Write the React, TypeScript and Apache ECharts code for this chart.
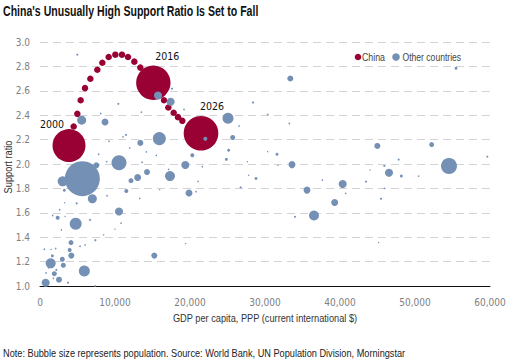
import React, { useEffect, useRef } from "react";
import * as echarts from "echarts";

const FONT = "'DejaVu Sans Condensed', 'Liberation Sans', sans-serif";
const NARROW = "'Liberation Sans', Arial, sans-serif";

const titleText = "China's Unusually High Support Ratio Is Set to Fall";
const noteText = "Note: Bubble size represents population. Source: World Bank, UN Population Division, Morningstar";
const xAxisName = "GDP per capita, PPP (current international $)";
const yAxisName = "Support ratio";
const legendNames = ["China", "Other countries"];

const xTicks = [0, 10000, 20000, 30000, 40000, 50000, 60000];
const yTicks = [1.0, 1.2, 1.4, 1.6, 1.8, 2.0, 2.2, 2.4, 2.6, 2.8, 3.0];

// China trajectory: GDP per capita, support ratio
const chinaGdp = [3867, 4490, 4978, 5422, 6000, 6711, 7644, 8311, 9156, 10044, 10933, 11733, 12578, 13378, 15111, 16533, 17111, 17822, 18400, 18978, 21467];
const chinaRatio = [2.151, 2.307, 2.411, 2.523, 2.622, 2.699, 2.773, 2.830, 2.877, 2.896, 2.896, 2.877, 2.839, 2.790, 2.666, 2.523, 2.463, 2.420, 2.384, 2.354, 2.252];
const chinaLabels = ["2000", "", "", "", "", "", "", "", "", "", "", "", "", "", "2016", "", "", "", "", "", "2026"];
const chinaPop = [1270, 0, 0, 0, 0, 0, 0, 0, 0, 0, 0, 0, 0, 0, 1380, 0, 0, 0, 0, 0, 1400];

// Other countries: [GDP per capita, support ratio, population (millions)]
const otherCountries: [number, number, number][] = [
  [4978, 2.896, 5], [15733, 2.562, 75], [17422, 2.51, 75], [17600, 2.617, 5], [10444, 2.493, 5],
  [5556, 2.359, 95], [8667, 2.345, 57], [8089, 2.414, 3], [13511, 2.425, 3], [19200, 2.447, 3],
  [28400, 2.504, 5], [25067, 2.375, 141], [30356, 2.406, 3], [26533, 2.312, 3], [22044, 2.206, 19],
  [25689, 2.217, 29], [15911, 2.208, 198], [13378, 2.173, 42], [11467, 2.238, 5], [11067, 2.222, 3],
  [9200, 2.186, 3], [11956, 2.132, 3], [25156, 2.112, 10], [31600, 2.08, 10], [30356, 2.101, 2],
  [14178, 2.099, 3], [15511, 2.071, 3], [7822, 2.08, 3], [20311, 2.071, 19], [24844, 2.038, 10],
  [10533, 2.011, 263], [7511, 1.989, 42], [8889, 2.019, 3], [5644, 1.88, 1430], [3022, 1.858, 117],
  [19378, 1.992, 75], [17333, 1.901, 117], [14267, 1.934, 42], [13022, 1.89, 57], [12133, 1.863, 29],
  [11511, 1.778, 19], [13600, 2.014, 3], [17156, 1.956, 3], [21644, 1.978, 3], [27644, 2.019, 2],
  [27822, 1.907, 2], [28800, 1.882, 10], [26756, 1.808, 5], [21067, 1.858, 3], [19867, 1.762, 57],
  [20800, 1.773, 3], [15956, 1.789, 2], [3244, 1.784, 10], [6978, 1.715, 95], [4889, 1.677, 5],
  [8933, 1.74, 3], [3289, 1.682, 2], [13289, 1.718, 3], [2622, 1.625, 3], [10533, 1.611, 75],
  [1689, 1.578, 3], [2356, 1.559, 19], [3333, 1.57, 2], [4756, 1.51, 168], [6667, 1.542, 5],
  [10800, 1.515, 3], [2844, 1.46, 3], [10000, 1.466, 2], [8489, 1.419, 2], [7378, 1.375, 5],
  [4133, 1.356, 29], [5333, 1.326, 3], [3956, 1.296, 19], [6000, 1.337, 3], [578, 1.301, 3],
  [1467, 1.299, 2], [2089, 1.307, 3], [1644, 1.247, 10], [4178, 1.249, 42], [2978, 1.219, 29],
  [1422, 1.186, 117], [3111, 1.17, 29], [2178, 1.132, 5], [1911, 1.101, 29], [5911, 1.123, 141],
  [800, 1.107, 3], [2533, 1.052, 42], [756, 1.027, 75], [3733, 1.027, 5], [1778, 1.063, 3],
  [15244, 1.249, 42], [19422, 1.348, 2], [7333, 1.0, 3], [1111, 1.148, 2],
  [33378, 2.701, 42], [55467, 2.784, 10], [33244, 2.332, 3], [44978, 2.148, 42], [52222, 2.159, 29],
  [31733, 1.989, 2], [33600, 1.995, 57], [45911, 1.984, 5], [47822, 2.036, 5], [54533, 1.984, 300],
  [59644, 2.06, 5], [46533, 1.929, 75], [48178, 1.901, 10], [50489, 1.901, 3], [44000, 1.951, 2],
  [37644, 1.868, 3], [43467, 1.855, 5], [40356, 1.836, 75], [35600, 1.786, 57], [40756, 1.759, 3],
  [45911, 1.8, 3], [39289, 1.685, 57], [45467, 1.715, 5], [36533, 1.578, 117], [34000, 1.567, 5],
  [45156, 1.356, 2],
];

const RED = "#990033";
const BLUE = "#7590B5";
const popToSize = (pop: number) => Math.sqrt(pop) * 0.925;
const labelOffsets: Record<string, [number, number]> = {
  "2000": [-17, -22],
  "2016": [14, -27],
  "2026": [11, -27],
};

export default function App() {
  const ref = useRef<HTMLDivElement>(null);
  useEffect(() => {
    if (!ref.current) return;
    const chart = echarts.init(ref.current, null, { renderer: "svg" });
    const chinaData = chinaGdp.map((g, i) => {
      const lbl = chinaLabels[i];
      const item: any = { value: [g, chinaRatio[i]], symbolSize: chinaPop[i] > 0 ? popToSize(chinaPop[i]) : 6.5 };
      if (lbl) {
        item.label = {
          show: true,
          formatter: lbl,
          position: "inside",
          align: "center",
          verticalAlign: "middle",
          offset: labelOffsets[lbl],
          color: "#111",
          fontSize: 10.5,
          fontFamily: FONT,
        };
      }
      return item;
    });
    chart.setOption({
      animation: false,
      textStyle: { fontFamily: FONT },
      legend: { show: false, data: legendNames },
      grid: { left: 40, right: 23, top: 42, bottom: 75 },
      xAxis: {
        type: "value",
        min: xTicks[0],
        max: xTicks[xTicks.length - 1],
        interval: 10000,
        axisLine: { show: true, lineStyle: { color: "#111", width: 1 } },
        axisTick: { show: false },
        splitLine: { show: false },
        axisLabel: {
          margin: 11,
          color: "#808080",
          fontSize: 10,
          fontFamily: FONT,
          formatter: (v: number) => v.toLocaleString("en-US"),
        },
      },
      yAxis: {
        type: "value",
        min: yTicks[0],
        max: yTicks[yTicks.length - 1],
        interval: 0.2,
        axisLine: { show: false },
        axisTick: { show: false },
        splitLine: { show: true, lineStyle: { color: "#d3d3d3", type: [8, 5], width: 1 } },
        axisLabel: {
          margin: 10,
          color: "#808080",
          fontSize: 10,
          fontFamily: FONT,
          formatter: (v: number) => v.toFixed(1),
        },
      },
      series: [
        {
          name: legendNames[0],
          type: "scatter",
          data: chinaData,
          itemStyle: { color: RED, opacity: 1 },
          z: 2,
        },
        {
          name: legendNames[1],
          type: "scatter",
          data: otherCountries.map((d) => ({ value: d, symbolSize: popToSize(d[2]) })),
          itemStyle: { color: BLUE, opacity: 1 },
          z: 3,
        },
      ],
      graphic: [
        {
          type: "text",
          x: 3,
          y: 11.5,
          scaleX: 0.755,
          style: {
            text: titleText,
            fontFamily: NARROW,
            fontSize: 14,
            fontWeight: "bold",
            fill: "#111",
            textAlign: "left",
            textVerticalAlign: "middle",
          },
        },
        {
          type: "text",
          x: 265,
          y: 318,
          scaleX: 0.84,
          style: {
            text: xAxisName,
            fontFamily: NARROW,
            fontSize: 11,
            fill: "#333",
            textAlign: "center",
            textVerticalAlign: "middle",
          },
        },
        {
          type: "text",
          x: 8,
          y: 167,
          rotation: Math.PI / 2,
          scaleX: 0.84,
          style: {
            text: yAxisName,
            fontFamily: NARROW,
            fontSize: 11,
            fill: "#333",
            textAlign: "center",
            textVerticalAlign: "middle",
          },
        },
        { type: "circle", shape: { cx: 358, cy: 57, r: 3.3 }, style: { fill: RED } },
        {
          type: "text",
          x: 362,
          y: 57,
          scaleX: 0.8,
          style: {
            text: legendNames[0],
            fontFamily: NARROW,
            fontSize: 11,
            fill: "#444",
            textAlign: "left",
            textVerticalAlign: "middle",
          },
        },
        { type: "circle", shape: { cx: 396, cy: 57, r: 3.8 }, style: { fill: BLUE } },
        {
          type: "text",
          x: 402.5,
          y: 57,
          scaleX: 0.78,
          style: {
            text: legendNames[1],
            fontFamily: NARROW,
            fontSize: 11,
            fill: "#444",
            textAlign: "left",
            textVerticalAlign: "middle",
          },
        },
        {
          type: "text",
          x: 3,
          y: 353,
          scaleX: 0.92,
          style: {
            text: noteText,
            fontFamily: NARROW,
            fontSize: 10,
            fill: "#222",
            textAlign: "left",
            textVerticalAlign: "middle",
          },
        },
      ],
    });
    return () => chart.dispose();
  }, []);
  return <div ref={ref} style={{ width: 513, height: 361, position: "absolute", left: 0, top: 0 }} />;
}
